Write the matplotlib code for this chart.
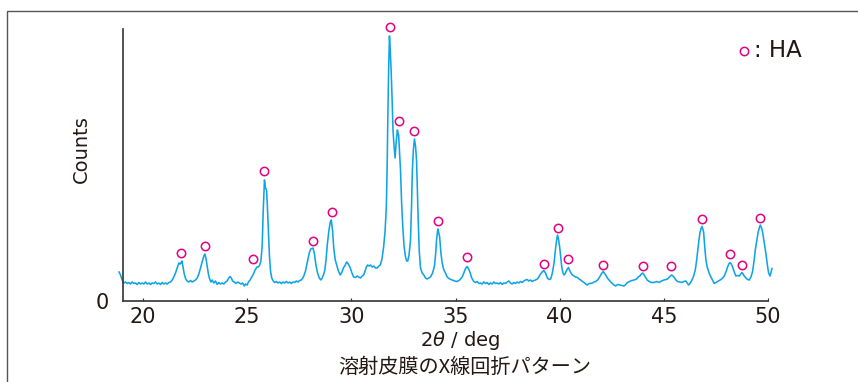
import matplotlib
matplotlib.use('Agg')
import matplotlib.pyplot as plt
from matplotlib.patches import Rectangle

# XRD trace (2theta in deg, counts in arbitrary units)
theta = [18.85, 18.92, 19.0, 19.08, 19.16, 19.24, 19.32, 19.4, 19.48, 19.56,
         19.64, 19.72, 19.8, 19.88, 19.96, 20.04, 20.12, 20.2, 20.28, 20.36,
         20.44, 20.52, 20.6, 20.68, 20.76, 20.84, 20.92, 21.0, 21.08, 21.16,
         21.24, 21.32, 21.4, 21.48, 21.56, 21.64, 21.72, 21.78, 21.82, 21.87,
         21.92, 21.98, 22.05, 22.12, 22.2, 22.28, 22.36, 22.44, 22.52, 22.6,
         22.68, 22.76, 22.84, 22.92, 22.97, 23.02, 23.08, 23.14, 23.2, 23.26,
         23.32, 23.4, 23.48, 23.56, 23.64, 23.72, 23.8, 23.88, 23.96, 24.04,
         24.1, 24.18, 24.24, 24.3, 24.38, 24.46, 24.54, 24.62, 24.7, 24.78,
         24.86, 24.92, 25.0, 25.06, 25.14, 25.22, 25.3, 25.38, 25.47, 25.54,
         25.6, 25.66, 25.72, 25.77, 25.83, 25.88, 25.93, 25.97, 26.02, 26.07,
         26.12, 26.18, 26.25, 26.32, 26.4, 26.48, 26.56, 26.64, 26.72, 26.8,
         26.88, 26.96, 27.04, 27.12, 27.2, 27.28, 27.36, 27.44, 27.52, 27.6,
         27.7, 27.8, 27.9, 27.98, 28.05, 28.16, 28.23, 28.3, 28.38, 28.46,
         28.54, 28.6, 28.66, 28.72, 28.78, 28.85, 28.92, 28.99, 29.04, 29.1,
         29.16, 29.23, 29.3, 29.38, 29.47, 29.55, 29.62, 29.71, 29.77, 29.82,
         29.88, 29.95, 30.03, 30.11, 30.2, 30.28, 30.35, 30.44, 30.52, 30.59,
         30.66, 30.72, 30.78, 30.85, 30.92, 31.0, 31.08, 31.16, 31.24, 31.32,
         31.39, 31.47, 31.55, 31.62, 31.68, 31.72, 31.75, 31.79, 31.83, 31.87,
         31.91, 31.96, 32.0, 32.05, 32.1, 32.15, 32.21, 32.24, 32.27, 32.31,
         32.36, 32.41, 32.47, 32.53, 32.6, 32.66, 32.71, 32.77, 32.84, 32.89,
         32.93, 32.98, 33.03, 33.08, 33.13, 33.17, 33.21, 33.26, 33.32, 33.4,
         33.48, 33.56, 33.64, 33.72, 33.8, 33.9, 33.99, 34.05, 34.09, 34.15,
         34.2, 34.24, 34.3, 34.36, 34.44, 34.52, 34.6, 34.72, 34.84, 34.96,
         35.08, 35.2, 35.32, 35.4, 35.48, 35.56, 35.63, 35.69, 35.78, 35.88,
         35.96, 36.04, 36.12, 36.2, 36.28, 36.36, 36.44, 36.52, 36.6, 36.68,
         36.76, 36.84, 36.92, 37.0, 37.08, 37.16, 37.24, 37.32, 37.4, 37.48,
         37.56, 37.64, 37.72, 37.8, 37.88, 37.96, 38.04, 38.12, 38.2, 38.28,
         38.36, 38.44, 38.52, 38.6, 38.68, 38.76, 38.84, 38.93, 39.0, 39.08,
         39.16, 39.24, 39.32, 39.41, 39.49, 39.57, 39.65, 39.73, 39.8, 39.86,
         39.9, 39.95, 40.0, 40.05, 40.1, 40.16, 40.21, 40.28, 40.34, 40.42,
         40.47, 40.53, 40.61, 40.69, 40.77, 40.85, 40.93, 41.01, 41.09, 41.17,
         41.25, 41.33, 41.41, 41.49, 41.57, 41.65, 41.73, 41.82, 41.92, 42.0,
         42.08, 42.14, 42.21, 42.29, 42.37, 42.45, 42.53, 42.61, 42.69, 42.78,
         42.88, 42.98, 43.09, 43.17, 43.25, 43.35, 43.46, 43.58, 43.69, 43.77,
         43.85, 43.92, 43.98, 44.04, 44.1, 44.2, 44.3, 44.4, 44.53, 44.65,
         44.77, 44.89, 45.01, 45.1, 45.18, 45.27, 45.37, 45.44, 45.5, 45.58,
         45.66, 45.76, 45.87, 45.96, 46.06, 46.12, 46.19, 46.27, 46.35, 46.43,
         46.51, 46.57, 46.63, 46.68, 46.73, 46.78, 46.83, 46.87, 46.91, 46.96,
         47.02, 47.08, 47.15, 47.2, 47.26, 47.34, 47.42, 47.5, 47.58, 47.66,
         47.74, 47.82, 47.9, 47.98, 48.06, 48.12, 48.17, 48.24, 48.3, 48.38,
         48.46, 48.54, 48.62, 48.69, 48.75, 48.8, 48.86, 48.94, 49.02, 49.1,
         49.18, 49.26, 49.33, 49.39, 49.46, 49.52, 49.58, 49.63, 49.69, 49.74,
         49.82, 49.9, 49.97, 50.03, 50.1, 50.15, 50.19]
counts = [29, 26, 21, 18, 19, 17.5, 18.5, 17, 19, 17.5,
          18, 16.5, 18.5, 17, 18, 17, 19, 17, 18, 16.5,
          18, 17.5, 19, 17, 18, 16.5, 18.5, 17, 18, 17,
          18.5, 19, 21, 24, 28, 33, 38, 37, 38, 40,
          34, 27, 22, 20, 19, 20.5, 19, 20, 21, 23,
          27, 33, 39, 45, 47, 43, 35, 27, 22, 19,
          21, 18, 20, 16.5, 18.5, 17, 18, 17, 19, 20,
          22.5, 24.5, 23, 20, 19, 17.5, 19, 18, 17, 18,
          15, 17, 16, 19, 21, 24, 27, 31, 34, 34,
          36, 40, 55, 90, 121, 113, 111, 95, 70, 45,
          30, 23, 20, 18.5, 19.5, 18, 19, 17.5, 19, 18,
          19.5, 18, 19, 17.5, 19, 18.5, 20, 19, 20.5, 21,
          24, 30, 40, 48, 52, 53, 47, 36, 28, 23,
          21, 23, 26, 30, 40, 57, 70, 79, 81, 70,
          52, 41, 36, 30, 26, 29, 33, 36, 39, 38,
          36, 33, 28, 24, 23.5, 25, 24, 23, 25, 26,
          30, 34, 36, 35, 36, 34, 35, 33, 33, 35,
          36, 42, 54, 70, 94, 135, 181, 230, 265, 250,
          231, 200, 171, 155, 143, 158, 171, 168, 166, 150,
          131, 100, 74, 55, 44, 40, 40, 46, 61, 95,
          131, 152, 162, 155, 141, 110, 81, 50, 33, 28,
          26, 23, 22, 23, 24, 28, 35, 48, 61, 72,
          68, 64, 48, 38, 31, 28, 24, 22, 21, 20,
          19.5, 21, 24, 28, 32.5, 34.5, 32, 29, 23, 19.5,
          18.5, 19.5, 17.5, 18, 17, 19, 17.5, 18.5, 16.5, 18,
          17, 19, 17.5, 18, 17, 18.5, 16.5, 18, 17.5, 19,
          20, 18, 17, 18.5, 17.5, 19, 18, 19.5, 18.5, 20,
          21, 21.5, 20, 21, 19.5, 20.5, 21, 22, 24, 27,
          29, 30.5, 28, 23, 21.5, 22, 28, 38, 52, 62,
          66, 61, 54, 44, 34, 28, 26, 28, 31, 33.5,
          31, 28.5, 26, 25, 24, 23.5, 22, 21, 19.5, 18.5,
          17, 16, 17.5, 17.5, 18, 19, 19.5, 21, 24, 27,
          29.5, 28, 26, 23, 21, 19, 17.5, 16, 15, 16.5,
          16, 15.5, 15, 16.5, 18.5, 19.5, 20.5, 21, 22, 24,
          25, 27, 28, 26.5, 24.5, 21, 19.5, 18.5, 18.5, 19.5,
          18.5, 20, 21, 21.5, 22, 24, 26, 25, 23.5, 21,
          19.5, 19, 18.5, 19.5, 20, 18, 16, 18, 21, 25,
          31, 40, 51, 60, 68, 72, 74.5, 72, 69, 55,
          41, 34, 29.5, 26.5, 24, 20.5, 17.5, 18.5, 19.5, 20.5,
          21.5, 23, 25, 29, 34, 37, 38.5, 37, 34, 29,
          25, 25.5, 25, 27, 28.5, 27, 25, 23, 21.5, 21,
          24, 29.5, 40, 51, 60, 68, 73, 76, 73, 69,
          58, 47.5, 36, 28, 25, 29, 32.5]

# HA peak markers (circles)
ha_theta = [21.83, 22.97, 25.30, 25.83, 28.16, 29.09, 31.84, 32.29, 33.03, 34.15,
            35.56, 39.24, 39.92, 40.40, 42.07, 43.99, 45.34, 46.83, 48.17, 48.76, 49.63]
ha_counts = [47.7, 55.3, 41.7, 130.3, 60.3, 89, 273.7, 179.7, 170.3, 80.3,
             43.7, 37.3, 73.3, 41.7, 36, 35.3, 35, 82, 47.3, 36, 83.3]

line_col = '#10a4e6'
ha_col = '#e4007f'
axis_col = '#333333'
text_col = '#231815'

fig = plt.figure(figsize=(8.58, 3.82), dpi=100)
ax = fig.add_axes([123 / 858, 1 - 301 / 382, 645 / 858, 272 / 382])

ax.plot(theta, counts, color=line_col, lw=1.15, clip_on=False)
ax.plot(ha_theta, ha_counts, 'o', mfc='none', mec=ha_col, ms=6, mew=1.1, clip_on=False)

ax.set_xlim(19.04, 50)
ax.set_ylim(0, 272)
for s in ['top', 'right']:
    ax.spines[s].set_visible(False)
for s in ['left', 'bottom']:
    ax.spines[s].set_color(axis_col)
    ax.spines[s].set_linewidth(1.2)

ax.set_xticks([20, 25, 30, 35, 40, 45, 50])
ax.tick_params(axis='x', direction='in', length=2.5, width=0.8, color=axis_col,
               labelsize=15, pad=4, labelcolor=text_col)
ax.set_yticks([0])
ax.tick_params(axis='y', length=0, labelsize=15, pad=10.5, labelcolor=text_col)

# legend
ax.plot([0.963], [0.92], 'o', mfc='none', mec=ha_col, ms=6, mew=1.1,
        transform=ax.transAxes, clip_on=False)
ax.text(0.979, 0.898, ': HA', transform=ax.transAxes, fontsize=16.5,
        color=text_col, va='baseline', ha='left')

# labels
fig.text(81 / 858, 1 - 149 / 382, 'Counts', rotation=90, fontsize=14,
         ha='center', va='center', color=text_col)
fig.text(460 / 858, 1 - 340 / 382, r'2$\theta$ / deg', fontsize=14,
         ha='center', va='center', color=text_col)
fig.text(465 / 858, 1 - 367 / 382, '溶射皮膜のX線回折パターン',
         family=['Noto Sans CJK JP', 'DejaVu Sans'], fontsize=14.5,
         ha='center', va='center', color=text_col)

# outer frame (runs off the right and bottom edges)
fig.patches.append(Rectangle((7 / 858, -0.5), 2, 0.5 + 1 - 11 / 382,
                             transform=fig.transFigure, fill=False,
                             ec='#555555', lw=1.0))

fig.savefig('out.png', dpi=100)
